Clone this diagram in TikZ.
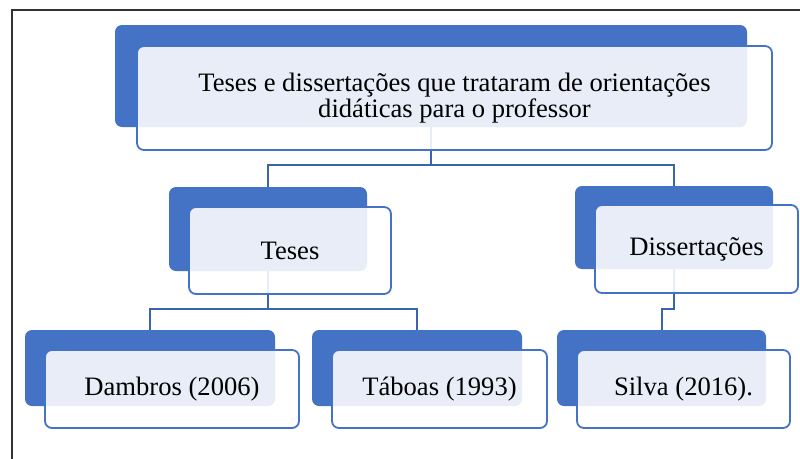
\documentclass[tikz,border=0pt]{standalone}
\usepackage{fontspec}
\setmainfont{Liberation Serif}
\usepackage{xcolor}
\usepackage{tikz}

\definecolor{blau}{HTML}{4472C4}
\definecolor{linie}{HTML}{3B64AE}

\begin{document}
\begin{tikzpicture}[x=1pt, y=-1pt,
    block/.style={rectangle, rounded corners=7pt, fill=blau, inner sep=0pt},
    karte/.style={rectangle, rounded corners=7pt, draw=blau, line width=1.8pt, fill=white, fill opacity=0.88, text opacity=1, inner sep=0pt, font=\fontsize{26.6}{26.5}\selectfont, align=center},
    verbindung/.style={draw=linie, line width=2pt}]

    \useasboundingbox (0,0) rectangle (800,458);

    % Rahmen
    \draw[line width=1.4pt, black!80] (12,460) -- (12,10) -- (801,10);

    % Blaue Bloecke (hinten)
    \node (TitelBlock) at (431,76) [block, minimum width=632pt, minimum height=102pt] {};
    \node (TesesBlock) at (268,229) [block, minimum width=198pt, minimum height=84pt] {};
    \node (DissBlock) at (674,227.5) [block, minimum width=198pt, minimum height=83pt] {};
    \node (DambrosBlock) at (150,368) [block, minimum width=250pt, minimum height=76pt] {};
    \node (TaboasBlock) at (417,368) [block, minimum width=210pt, minimum height=76pt] {};
    \node (SilvaBlock) at (661.5,368) [block, minimum width=209pt, minimum height=76pt] {};

    % Verbindungen
    \draw[verbindung] (TitelBlock.south) -- ++(0,38) -| (TesesBlock.north);
    \draw[verbindung] (TitelBlock.south) -- ++(0,38) -| (DissBlock.north);
    \draw[verbindung] (TesesBlock.south) -- ++(0,38) -| (DambrosBlock.north);
    \draw[verbindung] (TesesBlock.south) -- ++(0,38) -| (TaboasBlock.north);
    \draw[verbindung] (DissBlock.south) -- ++(0,40) -| (SilvaBlock.north);

    % Karten mit Text (vorne)
    \node (Titel) at (454.5,98) [karte, minimum width=635pt, minimum height=104pt] {Teses e dissertações que trataram de orientações\\didáticas para o professor};
    \node (Teses) at (290,250.5) [karte, minimum width=202pt, minimum height=87pt] {Teses};
    \node (Diss) at (696.5,249) [karte, minimum width=203pt, minimum height=88pt] {Dissertações};
    \node (Dambros) at (172,389) [karte, minimum width=254pt, minimum height=78pt] {Dambros (2006)};
    \node (Taboas) at (439.5,389) [karte, minimum width=215pt, minimum height=78pt] {Táboas (1993)};
    \node (Silva) at (683.5,389) [karte, minimum width=213pt, minimum height=78pt] {Silva (2016).};

\end{tikzpicture}
\end{document}
